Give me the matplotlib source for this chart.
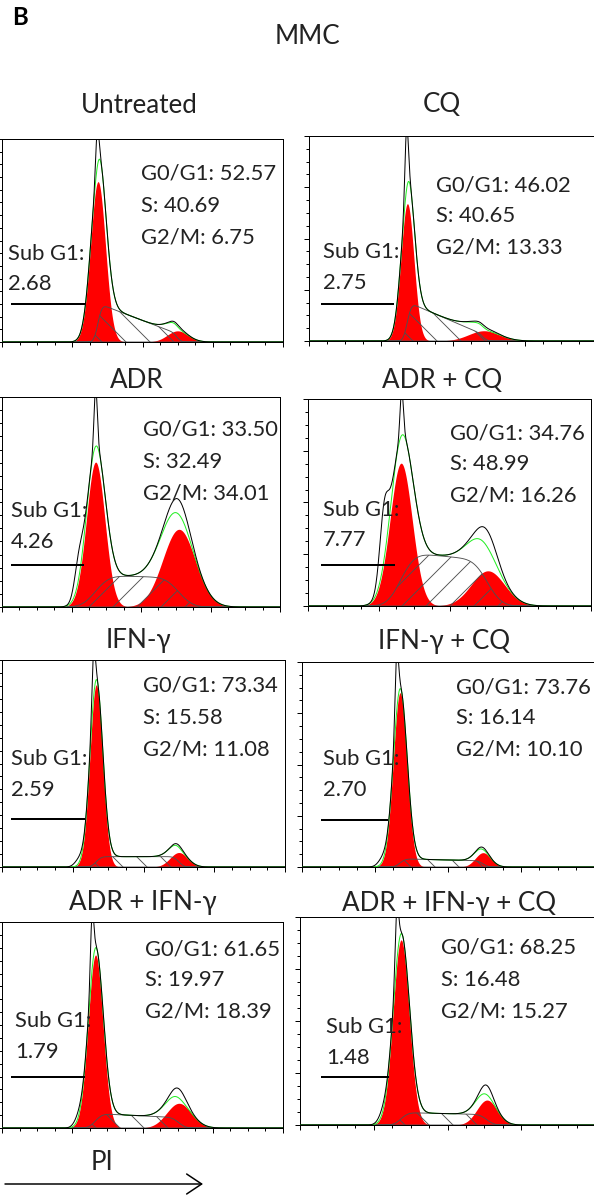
import math
import numpy as np
import matplotlib.pyplot as plt
from matplotlib.patches import FancyArrowPatch
from matplotlib.ticker import MultipleLocator

W, H = 594, 1199
plt.rcParams['font.family'] = ['Lato', 'DejaVu Sans']
plt.rcParams['hatch.linewidth'] = 0.9

# panel names and ModFit percentages
titles = ['Untreated', 'CQ', 'ADR', 'ADR + CQ', 'IFN-γ', 'IFN-γ + CQ',
          'ADR + IFN-γ', 'ADR + IFN-γ + CQ']
g0g1 = ['52.57', '46.02', '33.50', '34.76', '73.34', '73.76', '61.65', '68.25']
s_ph = ['40.69', '40.65', '32.49', '48.99', '15.58', '16.14', '19.97', '16.48']
g2m = ['6.75', '13.33', '34.01', '16.26', '11.08', '10.10', '18.39', '15.27']
sub_g1 = ['2.68', '2.75', '4.26', '7.77', '2.59', '2.70', '1.79', '1.48']

# fit components (PI channel 0-1024, height = fraction of axis)
g1_pos = [350, 350, 345, 337, 341, 344, 341, 351]
g1_height = [0.79, 0.67, 0.69, 0.69, 0.88, 0.85, 0.84, 0.89]
g1_sd = [27, 23, 34, 40, 23, 24, 27, 28]
g2_pos = [640, 622, 652, 651, 640, 635, 645, 649]
g2_height = [0.055, 0.05, 0.37, 0.17, 0.07, 0.07, 0.12, 0.12]
g2_sd = [38, 55, 60, 60, 32, 27, 45, 35]
s_start = [0.19, 0.19, 0.15, 0.26, 0.05, 0.04, 0.07, 0.06]
s_end = [0.04, 0.03, 0.14, 0.22, 0.05, 0.03, 0.05, 0.05]
s_edge = [12, 12, 40, 40, 15, 15, 20, 20]
# raw histogram extras (black trace)
raw_peak_pos = [347, 347, 345, 339, 331, 332, 328, 336]
raw_g2_extra = [0.01, 0.01, 0.07, 0.08, 0.01, 0.01, 0.045, 0.045]
raw_shoulder = [0.0, 0.0, 0.13, 0.28, 0.03, 0.03, 0.03, 0.03]
# sub G1 marker (channels, height)
sub_x0 = [36, 46, 37, 51, 36, 70, 36, 76]
sub_x1 = [297, 299, 300, 311, 295, 298, 297, 305]
sub_y = [0.187, 0.18, 0.20, 0.20, 0.23, 0.23, 0.25, 0.23]

hatches = ['\\', '\\', '/', '/', '\\', '\\', '\\', '\\']

# layout in pixels
boxes = [(2, 139, 281, 203), (309, 136, 288, 205), (2, 397, 278, 210), (308, 399, 283, 207),
         (2, 660, 283, 207), (302, 662, 292, 205), (2, 922, 281, 206), (300, 917, 295, 208)]
title_xy = [(139, 113), (442, 112), (137, 388), (442, 388),
            (138, 648), (444, 649), (143, 910), (449, 911)]
stats_xy = [(141, 180), (436, 191), (143, 436), (450, 439),
            (143, 692), (456, 693), (145, 955), (441, 954)]
sub_xy = [(8, 260), (323, 258), (11, 517), (323, 516),
          (11, 765), (323, 765), (15, 1027), (326, 1033)]

TXT = '#222222'
FS = 22
FT = 26

erf = np.vectorize(math.erf)


def gauss(x, mu, sd):
    return np.exp(-(x - mu) ** 2 / (2 * sd ** 2))


def fx(px):
    return px / W


def fy(py):
    return 1 - py / H


fig = plt.figure(figsize=(W / 72, H / 72), dpi=72)
x = np.linspace(0, 1024, 1025)

for i in range(8):
    l, t, w, h = boxes[i]
    ax = fig.add_axes([l / W, 1 - (t + h) / H, w / W, h / H])

    g1 = g1_height[i] * gauss(x, g1_pos[i], g1_sd[i])
    g2 = g2_height[i] * gauss(x, g2_pos[i], g2_sd[i])
    frac = np.clip((x - g1_pos[i]) / (g2_pos[i] - g1_pos[i]), 0, 1)
    s_lvl = s_start[i] + (s_end[i] - s_start[i]) * frac
    box = 0.5 * (erf((x - g1_pos[i]) / (math.sqrt(2) * s_edge[i]))
                 - erf((x - g2_pos[i]) / (math.sqrt(2) * s_edge[i])))
    s = s_lvl * box
    fit = g1 + g2 + s

    spike = max(1.04 - fit[raw_peak_pos[i]], 0) * gauss(x, raw_peak_pos[i], 6)
    raw = (fit + spike + raw_g2_extra[i] * gauss(x, g2_pos[i], g2_sd[i] * 0.6)
           + raw_shoulder[i] * gauss(x, g1_pos[i] - 62, 16))

    ax.fill_between(x, 0, g1, color='#ff0000', lw=0, zorder=1)
    ax.fill_between(x, 0, g2, color='#ff0000', lw=0, zorder=1)
    ax.fill_between(x, 0, s, facecolor='none', edgecolor='#505050', hatch=hatches[i],
                    lw=0.9, zorder=2)
    ax.plot(x, fit, color='#22ee22', lw=1.0, zorder=3)
    ax.plot(x, raw, color='black', lw=1.0, zorder=4)
    ax.plot([sub_x0[i], sub_x1[i]], [sub_y[i], sub_y[i]], color='black', lw=2.0, zorder=5)

    ax.set_xlim(0, 1024)
    ax.set_ylim(0, 1)
    ax.xaxis.set_major_locator(MultipleLocator(256))
    ax.xaxis.set_minor_locator(MultipleLocator(64))
    ax.yaxis.set_major_locator(MultipleLocator(0.25))
    ax.yaxis.set_minor_locator(MultipleLocator(0.0625))
    ax.tick_params(which='major', direction='out', length=5, width=1, color='black',
                   labelbottom=False, labelleft=False)
    ax.tick_params(which='minor', direction='out', length=3, width=1, color='black')
    for sp in ax.spines.values():
        sp.set_linewidth(1.0)
        sp.set_color('black')

    tx, ty = title_xy[i]
    fig.text(fx(tx), fy(ty), titles[i], ha='center', va='baseline', fontsize=FT, color=TXT)
    sx, sy = stats_xy[i]
    fig.text(fx(sx), fy(sy), 'G0/G1: ' + g0g1[i], ha='left', va='baseline', fontsize=FS, color=TXT)
    fig.text(fx(sx), fy(sy + 31.5), 'S: ' + s_ph[i], ha='left', va='baseline', fontsize=FS, color=TXT)
    fig.text(fx(sx), fy(sy + 63), 'G2/M: ' + g2m[i], ha='left', va='baseline', fontsize=FS, color=TXT)
    bx, by = sub_xy[i]
    fig.text(fx(bx), fy(by), 'Sub G1:', ha='left', va='baseline', fontsize=FS, color=TXT)
    fig.text(fx(bx), fy(by + 30.5), sub_g1[i], ha='left', va='baseline', fontsize=FS, color=TXT)

fig.text(fx(12), fy(25), 'B', ha='left', va='baseline', fontsize=24, fontweight='bold', color='black')
fig.text(fx(307), fy(44), 'MMC', ha='center', va='baseline', fontsize=FT, color=TXT)
fig.text(fx(102), fy(1170), 'PI', ha='center', va='baseline', fontsize=FT, color=TXT)
arrow = FancyArrowPatch((fx(3), fy(1184)), (fx(205), fy(1184)), transform=fig.transFigure,
                        arrowstyle='->,head_length=0.6,head_width=0.4', mutation_scale=25,
                        lw=1.5, color='black')
fig.patches.append(arrow)

fig.savefig('out.png', dpi=72)
